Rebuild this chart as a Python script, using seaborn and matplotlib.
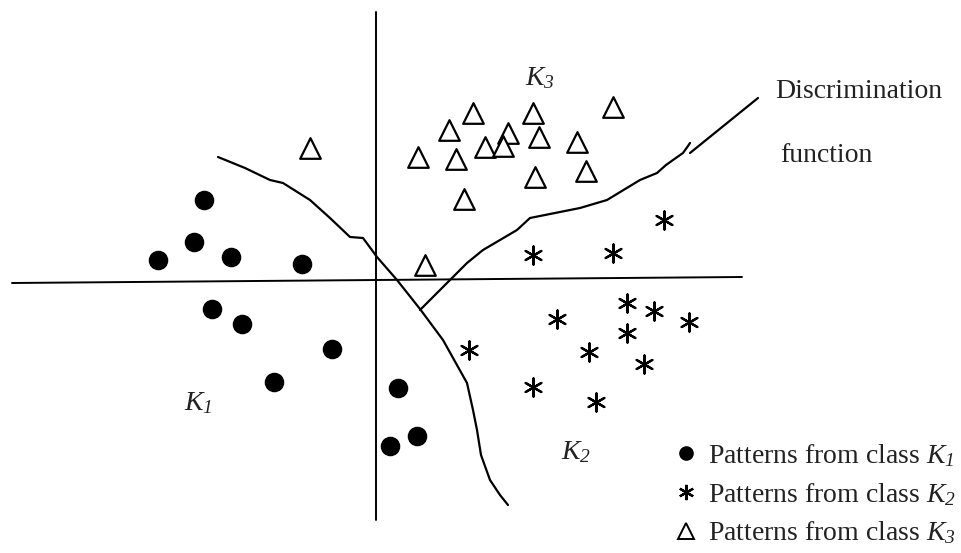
import numpy as np
import pandas as pd
import matplotlib
matplotlib.use("Agg")
import matplotlib.pyplot as plt
from matplotlib.lines import Line2D
import seaborn as sns

# pattern positions (picture units, y grows downwards)
k1_x = [204, 194, 158, 231, 302, 212, 242, 332, 274, 398, 390, 417]
k1_y = [200, 242, 260, 257, 264, 309, 324, 349, 382, 388, 446, 436]

k2_x = [533, 613, 664, 627, 654, 689, 557, 627, 469, 589, 644, 533, 596]
k2_y = [255, 253, 220, 303, 311, 322, 319, 333, 350, 352, 364, 387, 402]

k3_x = [310, 473, 533, 613, 449, 508, 539, 577, 485, 503, 418, 456, 535, 586, 464, 425]
k3_y = [148, 113, 113, 107, 130, 133, 137, 142, 147, 146, 157, 159, 177, 171, 199, 265]

# discrimination boundaries
b1_x = [218, 245, 270, 283, 310, 330, 350, 363, 377, 397, 420, 443, 467, 473, 477, 481, 490, 500, 508]
b1_y = [157, 168, 180, 183, 200, 218, 237, 238, 257, 280, 309, 340, 383, 410, 430, 455, 480, 495, 505]

b2_x = [420, 435, 450, 467, 483, 517, 530, 560, 580, 607, 640, 657, 666, 673, 683, 688, 690]
b2_y = [310, 295, 280, 263, 250, 230, 218, 212, 208, 200, 180, 173, 165, 160, 153, 146, 143]

# pointer to the "Discrimination function" label
ptr_x = [690, 758]
ptr_y = [153, 98]

# coordinate axes
hx = [12, 742]
hy = [283, 277]
vx = [376, 376]
vy = [12, 520]

sns.set_theme(style="white")
plt.rcParams["font.family"] = ["Liberation Serif", "DejaVu Serif"]
plt.rcParams["mathtext.fontset"] = "custom"
plt.rcParams["mathtext.rm"] = "Liberation Serif"
plt.rcParams["mathtext.it"] = "Liberation Serif:italic"
# italic digits for the subscripts (the 'it' slot forces digits upright)
plt.rcParams["mathtext.sf"] = "Liberation Serif:italic"

fig = plt.figure(figsize=(9.61, 5.53), dpi=100)
ax = fig.add_axes([0, 0, 1, 1])

for lx, ly, w in [(hx, hy, 1.4), (vx, vy, 1.4), (b1_x, b1_y, 1.6), (b2_x, b2_y, 1.6), (ptr_x, ptr_y, 1.6)]:
    sns.lineplot(x=lx, y=ly, color="black", lw=w, ax=ax, sort=False, estimator=None)

sns.scatterplot(x=k1_x, y=k1_y, color="black", s=170, marker="o", edgecolor="black", ax=ax, zorder=3)
sns.scatterplot(x=k2_x, y=k2_y, color="black", s=170, marker=(6, 2, 0), linewidth=1.6, ax=ax, zorder=3)
sns.scatterplot(x=k3_x, y=k3_y, color="white", s=220, marker="^", edgecolor="black", linewidth=1.6, ax=ax, zorder=3)

txt = dict(fontsize=20, color="#222222")
ax.text(540, 78, r"$K_{\mathsf{3}}$", ha="center", va="center", **txt)
ax.text(198, 403, r"$K_{\mathsf{1}}$", ha="center", va="center", **txt)
ax.text(576, 452, r"$K_{\mathsf{2}}$", ha="center", va="center", **txt)
ax.text(775, 92, "Discrimination", ha="left", va="center", **txt)
ax.text(780, 155, "function", ha="left", va="center", **txt)

handles = [
    Line2D([], [], ls="", marker="o", color="black", markersize=9.5),
    Line2D([], [], ls="", marker=(6, 2, 0), color="black", markersize=11, mew=1.6),
    Line2D([], [], ls="", marker="^", mfc="white", mec="black", markersize=11, mew=1.4),
]
labels = [r"Patterns from class $K_{\mathsf{1}}$",
          r"Patterns from class $K_{\mathsf{2}}$",
          r"Patterns from class $K_{\mathsf{3}}$"]
leg = ax.legend(handles, labels, loc="lower left", bbox_to_anchor=(0.688, -0.008),
                frameon=False, fontsize=20, handletextpad=0.3, labelspacing=0.42,
                handlelength=1.0, borderaxespad=0)
for t in leg.get_texts():
    t.set_color("#222222")

ax.set_xlim(0, 961)
ax.set_ylim(553, 0)
ax.set_axis_off()

fig.savefig("out.png", dpi=100, facecolor="white")
